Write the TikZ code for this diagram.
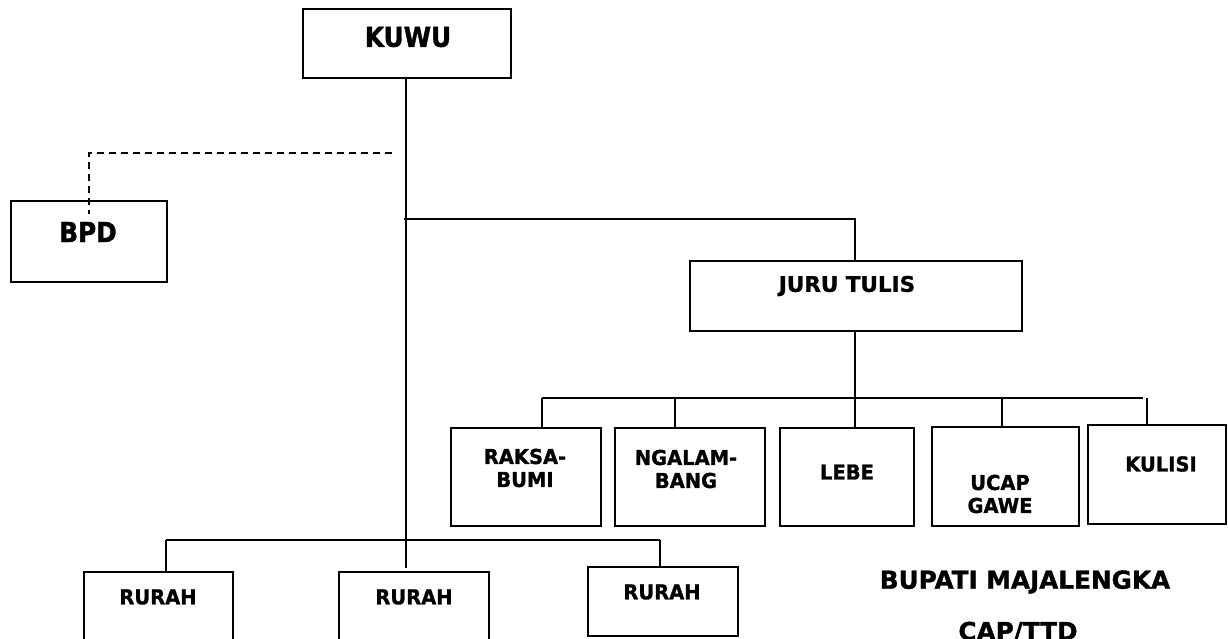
\documentclass[tikz,border=0pt]{standalone}
\usepackage{fontspec}
\setmainfont{DejaVu Sans}[BoldFeatures={FakeBold=1.2}]
\newfontfamily\narrowfont{DejaVu Sans}[FakeStretch=0.9, BoldFeatures={FakeBold=1.4}]
\newfontfamily\semifont{DejaVu Sans}[FakeStretch=0.95, BoldFeatures={FakeBold=1.2}]
\usetikzlibrary{positioning,calc}

\begin{document}
\begin{tikzpicture}[x=1pt, y=-1pt,
      box/.style={draw, line width=1.6pt, inner sep=0pt},
      lbig/.style={font=\narrowfont\bfseries\fontsize{27.5}{31}\selectfont, inner sep=0pt},
      lmid/.style={font=\bfseries\fontsize{21.5}{25}\selectfont, inner sep=0pt},
      lsm/.style={font=\semifont\bfseries\fontsize{20.5}{23}\selectfont, align=center, inner sep=0pt},
      lsig/.style={font=\bfseries\fontsize{24.7}{28}\selectfont, inner sep=0pt},
      ln/.style={line width=1.5pt},
      dl/.style={line width=1.5pt, dash pattern=on 7pt off 5pt},
    ]
      \useasboundingbox (0,0) rectangle (1228,639);
      % top
      \node[box, minimum width=208pt, minimum height=69pt] (kuwu) at (407,43.5) {};
      \node[lbig] (kuwut) at (408,37) {KUWU};
      \node[box, minimum width=156pt, minimum height=81pt] (bpd) at (89,241.5) {};
      \node[lbig] (bpdt) at (88,232) {BPD};
      \node[box, minimum width=332pt, minimum height=70pt] (juru) at (856,296) {};
      \node[lmid] (jurut) at (847,286) {JURU TULIS};
      % staff row
      \node[box, minimum width=150pt, minimum height=98pt] (raksa) at (526,477) {};
      \node[lsm] (raksat) at (525,468) {RAKSA-\\BUMI};
      \node[box, minimum width=150pt, minimum height=98pt] (ngalam) at (690,477) {};
      \node[lsm] (ngalamt) at (686,469) {NGALAM-\\BANG};
      \node[box, minimum width=134pt, minimum height=98pt] (lebe) at (847,477) {};
      \node[lsm] (lebet) at (847,472) {LEBE};
      \node[box, minimum width=147pt, minimum height=99pt] (ucap) at (1005.5,476.5) {};
      \node[lsm] (ucapt) at (1000,494) {UCAP\\GAWE};
      \node[box, minimum width=138pt, minimum height=99pt] (kulisi) at (1157,474.5) {};
      \node[lsm] (kulisit) at (1161,464) {KULISI};
      % rurah row
      \node[box, minimum width=149pt, minimum height=100pt] (rurah1) at (158.5,622) {};
      \node[lsm] (rurah1t) at (158,597) {RURAH};
      \node[box, minimum width=150pt, minimum height=100pt] (rurah2) at (414,622) {};
      \node[lsm] (rurah2t) at (414,597) {RURAH};
      \node[box, minimum width=150pt, minimum height=69pt] (rurah3) at (663,601.5) {};
      \node[lsm] (rurah3t) at (662,592) {RURAH};
      \node[lsig] (bupati) at (1025,582) {BUPATI MAJALENGKA};
      \node[lsig] (cap) at (1018,632) {CAP/TTD};
      % lines
      \coordinate (mainend) at (406,568);
      \coordinate (dashend) at (392,153);
      \coordinate (jbranch) at (404,219);
      \coordinate (sbarL) at (542,398);
      \coordinate (sbarR) at (1143,398);
      \coordinate (rbarL) at (166,540);
      \coordinate (rbarR) at (660,540);
      \draw[ln] (kuwu.south -| mainend) -- (mainend);
      \draw[dl] (dashend) -| ([yshift=-14pt]bpd.north);
      \draw[ln] (jbranch) -| (juru.north -| 855,0);
      \draw[ln] (juru.south -| 855,0) -- (lebe.north -| 855,0);
      \draw[ln] (sbarL) -- (sbarR);
      \foreach \n/\x in {raksa/542, ngalam/675, ucap/1002, kulisi/1147}
        \draw[ln] (\x,393 |- sbarL) -- (\x,0 |- \n.north);
      \draw[ln] (rbarL) -- (rbarR);
      \draw[ln] (rbarL) -- (rbarL |- rurah1.north);
      \draw[ln] (rbarR) -- (rbarR |- rurah3.north);
    \end{tikzpicture}
\end{document}
